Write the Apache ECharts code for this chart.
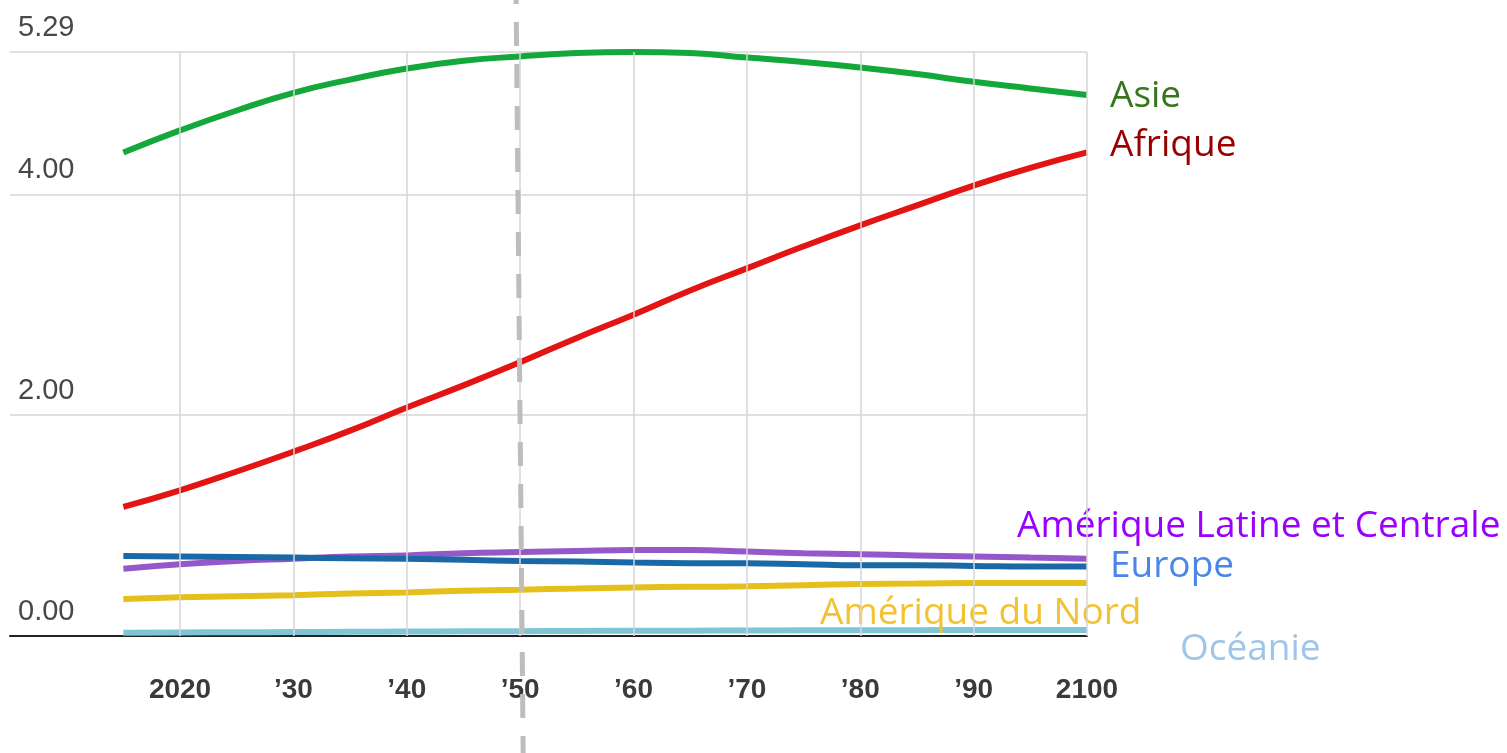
<!DOCTYPE html>
<html>
<head>
<meta charset="utf-8">
<script src="https://cdn.jsdelivr.net/npm/echarts@6/dist/echarts.min.js"></script>
<style>
html,body{margin:0;padding:0;background:#fff;}
#chart{width:1507px;height:753px;}
</style>
</head>
<body>
<div id="chart"></div>
<script>
// ---- data (population, billions) ----
const years = [2015,2020,2025,2030,2035,2040,2045,2050,2055,2060,2065,2070,2075,2080,2085,2090,2095,2100];
const asie     = [4.38,4.58,4.76,4.92,5.04,5.14,5.21,5.25,5.28,5.29,5.28,5.24,5.20,5.15,5.09,5.02,4.96,4.90];
const afrique  = [1.17,1.32,1.49,1.67,1.86,2.07,2.27,2.48,2.70,2.91,3.13,3.33,3.53,3.72,3.90,4.08,4.24,4.38];
const latine   = [0.61,0.65,0.68,0.70,0.72,0.73,0.75,0.76,0.77,0.78,0.78,0.765,0.75,0.74,0.73,0.72,0.71,0.70];
const europe   = [0.725,0.72,0.715,0.71,0.705,0.70,0.69,0.68,0.675,0.665,0.66,0.66,0.65,0.64,0.64,0.635,0.63,0.63];
const nord     = [0.335,0.35,0.36,0.37,0.385,0.395,0.41,0.42,0.43,0.44,0.445,0.45,0.46,0.47,0.475,0.48,0.48,0.48];
const oceanie  = [0.03,0.032,0.034,0.036,0.038,0.04,0.042,0.044,0.046,0.047,0.048,0.05,0.051,0.052,0.053,0.054,0.055,0.055];

const seriesNames  = ['Asie','Afrique','Amérique Latine et Centrale','Europe','Amérique du Nord','Océanie'];
const xTickValues  = [2020,2030,2040,2050,2060,2070,2080,2090,2100];
const xTickLabels  = ['2020','\u201930','\u201940','\u201950','\u201960','\u201970','\u201980','\u201990','2100'];
const yMax = 5.29;
const markYear = 2050;

const values = [asie, afrique, latine, europe, nord, oceanie];
const lineColors  = ['#14a83b','#e31414','#9558c9','#1a69a6','#e5c01a','#80c6d2'];
const labelColors = ['#38761d','#990000','#9900ff','#4a86e8','#f1c232','#9fc5e8'];
const labelOffsets = [[23,1],[23,-7],[-70,-32],[23,0],[-267,30],[93,20]];

const chart = echarts.init(document.getElementById('chart'), null, {renderer:'canvas'});

const series = [{
  type:'line', name:'grid', data:[], z:1, silent:true,
  markLine:{
    silent:true, symbol:['none','none'],
    label:{show:false},
    lineStyle:{color:'#d6d6d6', width:1.5, type:'solid'},
    emphasis:{disabled:true},
    data: xTickValues.map(v => ({xAxis:v}))
  }
}];
values.forEach((arr,i) => {
  series.push({
    type:'line', name:seriesNames[i],
    data: years.map((y,k) => [y, arr[k]]),
    smooth:0.5, showSymbol:false, symbol:'none',
    lineStyle:{color:lineColors[i], width:6},
    itemStyle:{color:lineColors[i]},
    z: 3,
    endLabel:{
      show:true, formatter: seriesNames[i], distance:0,
      offset: labelOffsets[i],
      color: labelColors[i], fontSize:37, fontFamily:'Open Sans'
    }
  });
});

chart.setOption({
  animation:false,
  backgroundColor:'#fff',
  grid:{left:10, right:420, top:52, bottom:117, containLabel:false},
  xAxis:{
    type:'value', min:2005, max:2100, interval:5,
    axisLine:{show:true, onZero:false, lineStyle:{color:'#222', width:2}},
    axisTick:{show:false},
    splitLine:{show:false},
    axisLabel:{
      margin:40, color:'#3a3a3a', fontSize:28, fontWeight:'bold',
      fontFamily:'Liberation Sans',
      showMinLabel:true, showMaxLabel:true,
      formatter: v => { const i = xTickValues.indexOf(Math.round(v)); return i >= 0 ? xTickLabels[i] : ''; }
    }
  },
  yAxis:{
    type:'value', min:0, max:yMax, interval:2,
    axisLine:{show:false}, axisTick:{show:false},
    splitLine:{lineStyle:{color:'#d6d6d6', width:1.5}},
    axisLabel:{
      inside:true, margin:8, color:'#484848', fontSize:29,
      fontFamily:'Liberation Sans', verticalAlign:'bottom', padding:[0,0,10,0],
      showMaxLabel:true,
      formatter: v => v.toFixed(2)
    }
  },
  series: series
});

const px = chart.convertToPixel({xAxisIndex:0}, markYear);
chart.setOption({
  graphic:[{
    type:'line', silent:true, z:10,
    shape:{x1:px-4, y1:0, x2:px+3, y2:753},
    style:{stroke:'#bdbdbd', lineWidth:5, lineDash:[24,18], lineDashOffset:20}
  }]
});
</script>
</body>
</html>
